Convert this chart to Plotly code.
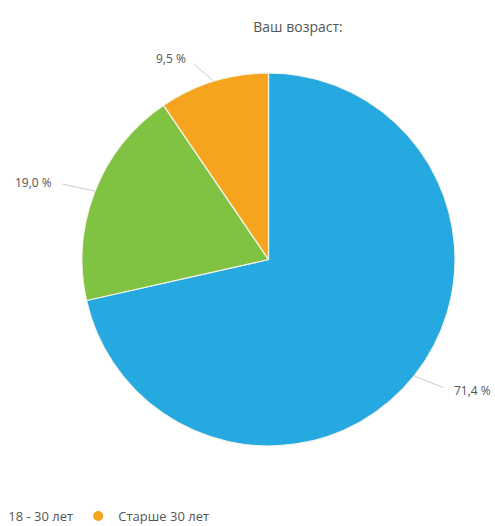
import math
import plotly.graph_objects as go

categories = ["До 18 лет", "18 - 30 лет", "Старше 30 лет"]
values = [71.4, 19.0, 9.5]
colors = ["#26a8e0", "#80c342", "#f6a31e"]
legend_visible = [False, True, True]
title_text = "Ваш возраст:"

W, H = 495, 526
# pie domain (paper fractions)
dom_x = [0.1657, 0.9192]
dom_y = [0.1521, 0.8612]

fig = go.Figure()
fig.add_trace(go.Pie(
    labels=categories, values=values, sort=False, direction="clockwise",
    rotation=0, marker=dict(colors=colors, line=dict(color="#f4f4ea", width=1.2)),
    textinfo="none", hoverinfo="label+percent", showlegend=False,
    domain=dict(x=dom_x, y=dom_y),
))

# legend entries with round markers
for name, c, show in zip(categories, colors, legend_visible):
    fig.add_trace(go.Scatter(x=[None], y=[None], mode="markers", name=name,
                             showlegend=show,
                             marker=dict(color=c, size=10, symbol="circle")))

# outside labels with leader lines, computed from the data
cx = (dom_x[0] + dom_x[1]) / 2 * W
cy = H - (dom_y[0] + dom_y[1]) / 2 * H
r = min((dom_x[1] - dom_x[0]) * W, (dom_y[1] - dom_y[0]) * H) / 2
total = sum(values)
cum = 0.0
for v in values:
    mid = (cum + v / 2) / total * 2 * math.pi
    cum += v
    sx, sy = math.sin(mid), -math.cos(mid)
    ex, ey = cx + r * sx, cy + r * sy
    right = sx >= 0
    ax = 24 * sx + (19 if right else -19)
    ay = 24 * sy
    fig.add_annotation(
        x=ex / W, y=1 - ey / H, xref="paper", yref="paper",
        text=f"{v:.1f}".replace(".", ",") + " %",
        showarrow=True, arrowhead=0, arrowwidth=0.9, arrowcolor="#c2c6cc",
        ax=ax, ay=ay, xanchor="left" if right else "right", yanchor="middle",
        borderpad=1, startstandoff=9,
        font=dict(family="Open Sans", size=12, color="#555555"),
    )

fig.update_layout(
    width=W, height=H,
    margin=dict(l=0, r=0, t=0, b=0, autoexpand=False),
    paper_bgcolor="white", plot_bgcolor="white",
    title=dict(text=title_text, x=0.602, xanchor="center", y=1 - 27 / H, yanchor="middle",
               font=dict(family="Open Sans", size=14, color="#555555")),
    xaxis=dict(visible=False), yaxis=dict(visible=False),
    legend=dict(orientation="h", x=-0.064, xanchor="left", y=1 - 516 / H, yanchor="middle",
                font=dict(family="Open Sans", size=13, color="#555555"),
                itemwidth=30, bgcolor="rgba(0,0,0,0)"),
)

fig.write_html("out.html")
